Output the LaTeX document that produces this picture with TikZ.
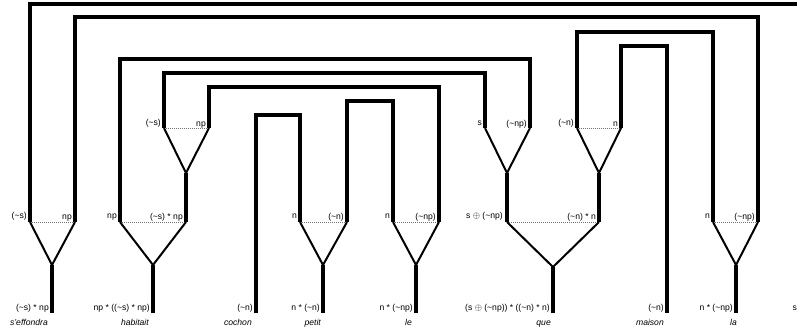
\documentclass[tikz,border=0pt]{standalone}
\usepackage{fontspec}
\setmainfont{Liberation Sans}
\newcommand\neglab{\textasciitilde}
\begin{document}
\begin{tikzpicture}[x=1pt,y=-1pt,
  link/.style={line width=4.4pt, line join=miter},
  side/.style={line width=2pt, line join=round},
  dots/.style={line width=1pt, densely dotted, black!55},
  lab/.style={inner sep=0pt, anchor=base east, font=\fontsize{8.6}{10}\selectfont},
  word/.style={inner sep=0pt, anchor=base east, font=\fontsize{8.6}{10}\selectfont\itshape}]
\useasboundingbox (0,0) rectangle (797,330);

% ports
\coordinate (seL) at (30,222);  \coordinate (seR) at (75,222);
\coordinate (seA) at (52,265);  \coordinate (seS) at (52,313);
\coordinate (haL) at (120,222); \coordinate (haR) at (186,222);
\coordinate (haA) at (153,265); \coordinate (haS) at (153,313);
\coordinate (hiL) at (164,128); \coordinate (hiR) at (209,128);
\coordinate (hiA) at (186,173);
\coordinate (co) at (256,313);
\coordinate (peL) at (300,222); \coordinate (peR) at (347,222);
\coordinate (peA) at (323,265); \coordinate (peS) at (323,313);
\coordinate (leL) at (393,222); \coordinate (leR) at (439,222);
\coordinate (leA) at (416,265); \coordinate (leS) at (416,313);
\coordinate (quL) at (507,222); \coordinate (quR) at (599,222);
\coordinate (quA) at (553,267); \coordinate (quS) at (553,313);
\coordinate (qaL) at (485,128); \coordinate (qaR) at (530,128);
\coordinate (qaA) at (507,173);
\coordinate (qbL) at (577,128); \coordinate (qbR) at (621,128);
\coordinate (qbA) at (599,173);
\coordinate (ma) at (667,313);
\coordinate (laL) at (713,222); \coordinate (laR) at (758,222);
\coordinate (laA) at (736,265); \coordinate (laS) at (736,313);
\coordinate (edge) at (797,4);

% triangles (tensor links with dotted top)
\foreach \t in {se,ha,pe,le,la}{
  \draw[dots] (\t L) -- (\t R);
  \draw[side] (\t L) -- (\t A) -- (\t R);
  \draw[link] (\t A) -- (\t S);
}
\draw[dots] (quL) -- (quR);
\draw[side] (quL) -- (quA) -- (quR);
\draw[link] (quA) -- (quS);
\draw[dots] (hiL) -- (hiR);
\draw[side] (hiL) -- (hiA) -- (hiR);
\draw[link] (hiA) -- (haR);
\draw[side] (qaL) -- (qaA) -- (qaR);
\draw[link] (qaA) -- (quL);
\draw[dots] (qbL) -- (qbR);
\draw[side] (qbL) -- (qbA) -- (qbR);
\draw[link] (qbA) -- (quR);

% axiom links
\draw[link] (seL) |- (edge);
\draw[link] (seR) -- (seR |- 0,17) -| (laR);
\draw[link] (haL) -- (haL |- 0,59) -| (qaR);
\draw[link] (hiL) -- (hiL |- 0,73) -| (qaL);
\draw[link] (hiR) -- (hiR |- 0,87) -| (leR);
\draw[link] (co) -- (co |- 0,115) -| (peL);
\draw[link] (peR) -- (peR |- 0,101) -| (leL);
\draw[link] (qbL) -- (qbL |- 0,32) -| (laL);
\draw[link] (qbR) -- (qbR |- 0,46) -| (ma);

% top labels of the triangles
\node[lab] (t1) at (27,218) {(\neglab s)};
\node[lab] (t2) at (72,219) {np};
\node[lab] (t3) at (117,218) {np};
\node[lab] (t4) at (183,219) {(\neglab s) * np};
\node[lab] (t5) at (297,218) {n};
\node[lab] (t6) at (344,219) {(\neglab n)};
\node[lab] (t7) at (390,218) {n};
\node[lab] (t8) at (436,219) {(\neglab np)};
\node[lab] (t9) at (503,218) {s $\oplus$ (\neglab np)};
\node[lab] (t10) at (596,219) {(\neglab n) * n};
\node[lab] (t11) at (710,218) {n};
\node[lab] (t12) at (755,219) {(\neglab np)};
% inner labels
\node[lab] (i1) at (161,125) {(\neglab s)};
\node[lab] (i2) at (206,126) {np};
\node[lab] (i3) at (482,125) {s};
\node[lab] (i4) at (527,126) {(\neglab np)};
\node[lab] (i5) at (574,125) {(\neglab n)};
\node[lab] (i6) at (618,126) {n};
% bottom types
\node[lab] (b1) at (49,310) {(\neglab s) * np};
\node[lab] (b2) at (150,310) {np * ((\neglab s) * np)};
\node[lab] (b3) at (253,310) {(\neglab n)};
\node[lab] (b4) at (320,310) {n * (\neglab n)};
\node[lab] (b5) at (413,310) {n * (\neglab np)};
\node[lab] (b6) at (550,310) {(s $\oplus$ (\neglab np)) * ((\neglab n) * n)};
\node[lab] (b7) at (664,310) {(\neglab n)};
\node[lab] (b8) at (733,310) {n * (\neglab np)};
\node[lab] (b9) at (797,310) {s};
% words
\node[word] (w1) at (48,325) {s'effondra};
\node[word] (w2) at (149,325) {habitait};
\node[word] (w3) at (252,325) {cochon};
\node[word] (w4) at (321,325) {petit};
\node[word] (w5) at (412,325) {le};
\node[word] (w6) at (551,325) {que};
\node[word] (w7) at (664,325) {maison};
\node[word] (w8) at (737,325) {la};
\end{tikzpicture}
\end{document}
